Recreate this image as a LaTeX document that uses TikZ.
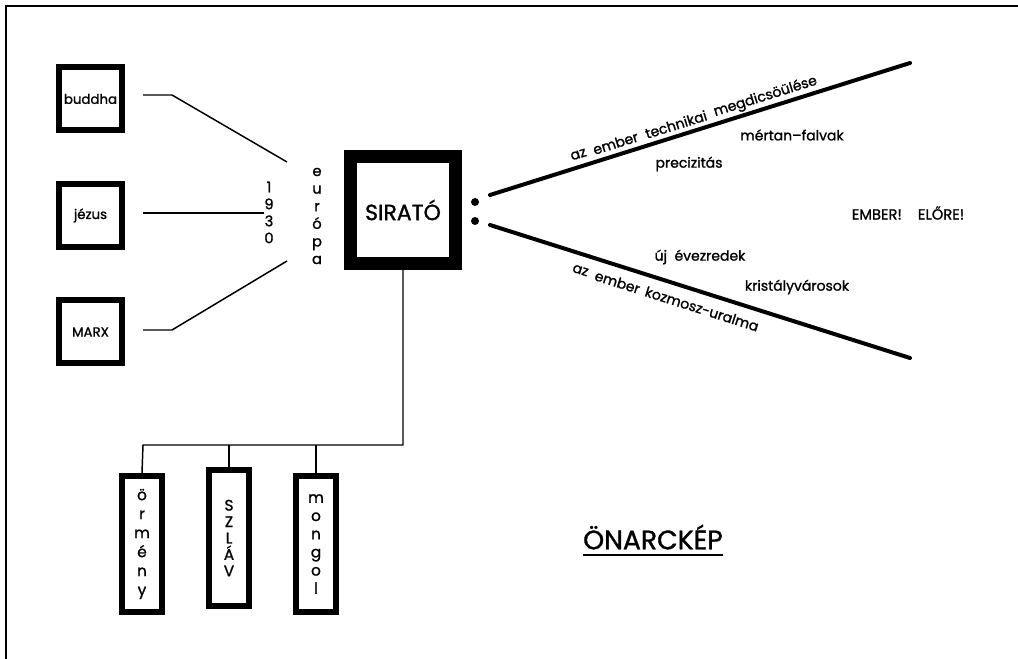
\documentclass[tikz,border=0pt]{standalone}
\usepackage{fontspec}
\setmainfont{Poppins}[FakeBold=1.2]
\begin{document}
\begin{tikzpicture}[x=0.75pt,y=-0.75pt,
  box/.style={draw, line width=4.5pt, minimum width=47.25pt, minimum height=47.25pt, inner sep=0pt, font=\fontsize{10}{12}\selectfont},
  tallbox/.style={draw, line width=4.5pt, minimum width=30pt, minimum height=102pt, inner sep=0pt, align=center},
  bigbox/.style={draw, line width=9.75pt, minimum width=78.75pt, minimum height=80.25pt, inner sep=0pt, font=\fontsize{16.5}{18}\selectfont},
  thinline/.style={line width=1.1pt},
  heavyline/.style={line width=3pt, line cap=round},
  lbl/.style={inner sep=0pt, font=\fontsize{10.5}{12}\selectfont},
  uplbl/.style={lbl, rotate=17.3},
  lowlbl/.style={lbl, rotate=-17.6},
  vtext/.style={inner sep=0pt, align=center},
  dot/.style={circle, fill, inner sep=0pt, minimum size=6pt}]
\useasboundingbox (0,0) rectangle (1018,659);
% frame
\draw[line width=2pt] (6,659) -- (6,6) -- (1018,6);
% left boxes
\node[box] (buddha) at (90.5,99) {buddha};
\node[box] (jezus) at (90.5,215.5) {jézus};
\node[box] (marx) at (90.5,332) {MARX};
% year and europe
\node[vtext, font=\fontsize{11}{12.75}\selectfont] (year) at (269,212.5) {1\\9\\3\\0};
\node[vtext, font=\fontsize{11}{13.2}\selectfont] (europa) at (317,216) {e\\u\\r\\ó\\p\\a};
\coordinate (b1) at (172,95);
\coordinate (eu1) at (287,162);
\coordinate (m1) at (172,330);
\coordinate (eu3) at (287,261);
\draw[thinline, shorten <=13.5pt] ([yshift=3pt]buddha.east) -- (b1) -- (eu1);
\draw[thinline, shorten <=13.5pt] ([yshift=2pt]jezus.east) -- ([yshift=2pt]jezus.east -| year.west);
\draw[thinline, shorten <=13.5pt] ([yshift=1.5pt]marx.east) -- (m1) -- (eu3);
% central box
\node[bigbox] (sirato) at (403,210) {SIRATÓ};
\node[dot] (d1) at (475,202) {};
\node[dot] (d2) at (475,221) {};
% rays
\coordinate (u0) at (490,195);
\coordinate (u1) at (910,63);
\coordinate (l0) at (490,225);
\coordinate (l1) at (910,358);
\draw[heavyline] (u0) -- (u1);
\draw[heavyline] (l0) -- (l1);
\node[uplbl] (t1a) at (578.5,154.5) {az};
\node[uplbl] (t1b) at (615.5,143.1) {ember};
\node[uplbl] (t1c) at (676,124.4) {technikai};
\node[uplbl] (t1d) at (765.5,96.8) {megdicsöülése};
\node[lbl] (t2) at (792,135) {mértan–falvak};
\node[lbl] (t3) at (689,164) {precizitás};
\node[lbl, font=\fontsize{11}{12}\selectfont] (t4) at (908,213) {EMBER!\hspace{1.1em}ELŐRE!};
\node[lbl] (t5) at (700,257) {új\ \ évezredek};
\node[lbl] (t6) at (797,287) {kristályvárosok};
\node[lowlbl] (t7a) at (580.5,270.4) {az};
\node[lowlbl] (t7b) at (617.5,282.1) {ember};
\node[lowlbl] (t7c) at (702,308.9) {kozmosz-uralma};
% bottom boxes
\node[tallbox, font=\fontsize{11.5}{14.25}\selectfont] (ormeny) at (142,544) {ö\\r\\m\\é\\n\\y};
\node[tallbox, font=\fontsize{11.5}{12.3}\selectfont] (szlav) at (229,538) {S\\Z\\L\\Á\\V};
\node[tallbox, font=\fontsize{11.5}{13.65}\selectfont] (mongol) at (316,544) {m\\o\\n\\g\\o\\l};
\coordinate (bus) at (143,445);
\draw[thinline] (sirato.south) |- (bus) -- (ormeny.north);
\draw[thinline] (szlav.north) -- (szlav.north |- bus);
\draw[thinline] (mongol.north) -- (mongol.north |- bus);
% title
\node[inner sep=0pt, font=\fontsize{20}{22}\selectfont] (title) at (653,537) {ÖNARCKÉP};
\draw[line width=1.8pt] ([yshift=-4pt]title.south west) -- ([yshift=-4pt]title.south east);
\end{tikzpicture}
\end{document}
